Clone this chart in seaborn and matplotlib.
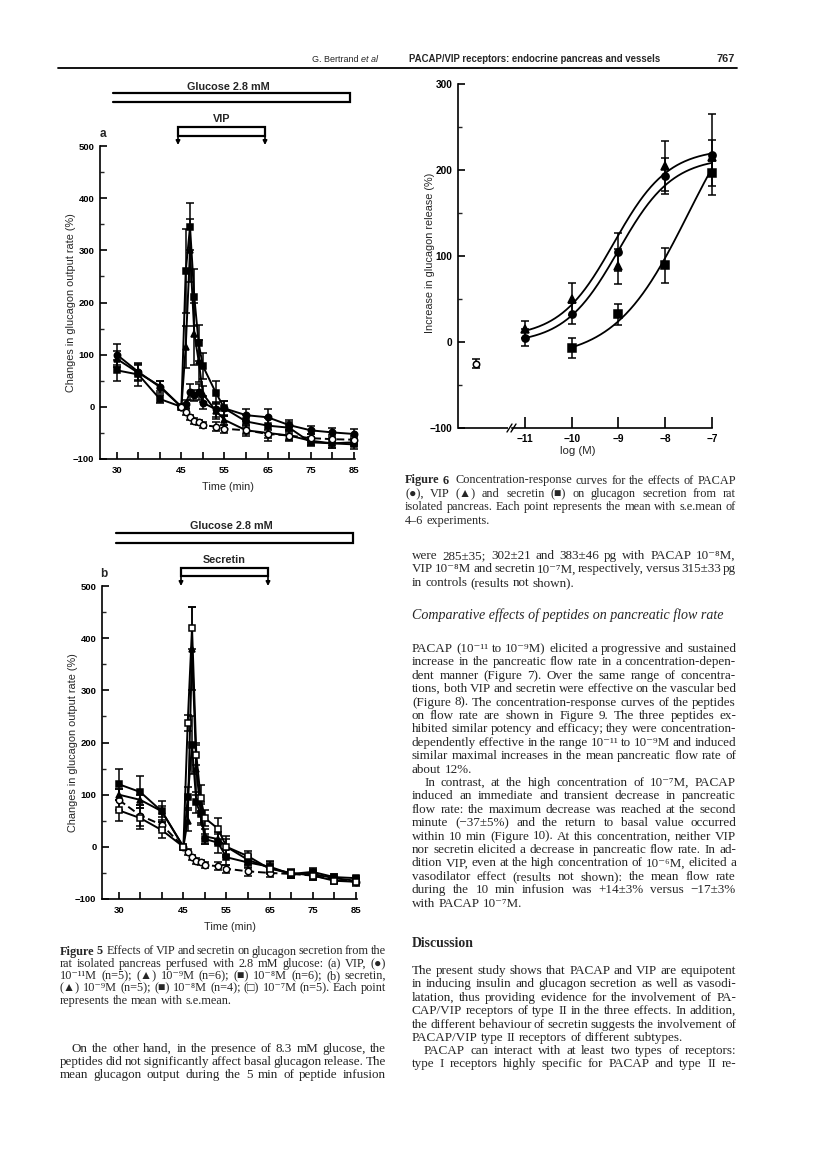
import numpy as np
import pandas as pd
import matplotlib
matplotlib.use("Agg")
import matplotlib.pyplot as plt
import seaborn as sns
from matplotlib import font_manager
from matplotlib.patches import Rectangle
from matplotlib.ticker import FixedLocator, FixedFormatter, MultipleLocator

# ---------------- data ----------------
time_min = [30, 35, 40, 45, 46, 47, 48, 49, 50, 53, 55, 60, 65, 70, 75, 80, 85]
time_tick_labels = ['30', '', '', '45', '', '55', '', '65', '', '75', '', '85']

# Figure 5a : VIP
a_vip_m11 = [100, 67, 38, 0, 5, 29, 22, 29, 8, -5, -3, -16, -20, -35, -45, -49, -52]
a_vip_m11_err = [20, 15, 12, 0, 8, 15, 10, 15, 12, 15, 15, 12, 15, 10, 8, 8, 10]
a_vip_m9 = [92, 65, 40, 0, 115, 300, 140, 88, 25, -8, -25, -45, -50, -55, -65, -70, -68]
a_vip_m9_err = [15, 15, 10, 0, 40, 60, 60, 40, 15, 15, 10, 10, 15, 10, 8, 8, 8]
a_vip_m8 = [70, 62, 15, 0, 260, 345, 210, 122, 78, 27, -3, -28, -36, -40, -68, -70, -72]
a_vip_m8_err = [20, 22, 8, 0, 80, 45, 55, 35, 25, 22, 15, 12, 15, 10, 8, 8, 8]
time_ctrl_a = [45, 46, 47, 48, 49, 50, 53, 55, 60, 65, 70, 75, 80, 85]
a_control = [0, -10, -20, -27, -30, -35, -38, -42, -45, -52, -55, -60, -62, -63]
a_control_err = [0, 5, 5, 5, 5, 5, 8, 8, 8, 8, 8, 8, 8, 8]

# Figure 5b : secretin
b_sec_m9 = [100, 90, 68, 0, 50, 380, 150, 65, 20, 15, 0, -25, -40, -52, -52, -60, -65]
b_sec_m9_err = [10, 10, 10, 0, 20, 80, 50, 20, 15, 10, 15, 10, 10, 8, 8, 5, 5]
b_sec_m8 = [120, 105, 68, 0, 95, 195, 85, 62, 15, 8, -20, -30, -38, -52, -48, -58, -60]
b_sec_m8_err = [30, 30, 20, 0, 20, 55, 20, 20, 10, 20, 15, 10, 10, 8, 8, 5, 5]
b_sec_m7 = [70, 55, 32, 0, 238, 420, 176, 93, 55, 35, 0, -18, -42, -50, -55, -65, -67]
b_sec_m7_err = [20, 20, 15, 0, 15, 40, 20, 25, 15, 20, 20, 10, 10, 8, 8, 5, 5]
b_control = [90, 60, 42, 0, -10, -20, -27, -30, -35, -37, -42, -47, -50, -52, -55, -63, -67]
b_control_err = [20, 20, 10, 0, 5, 5, 5, 5, 5, 8, 8, 8, 8, 8, 8, 8, 8]

# Figure 6 : concentration-response
log_conc_pacap = [-11, -10, -9, -8, -7]
pacap_resp = [5, 33, 105, 193, 218]
pacap_err = [10, 12, 22, 21, 47]
log_conc_vip = [-11, -10, -9, -8, -7]
vip_resp = [15, 50, 88, 205, 215]
vip_err = [10, 19, 20, 29, 20]
log_conc_sec = [-10, -9, -8, -7]
sec_resp = [-7, 32, 89, 196]
sec_err = [12, 12, 20, 15]
log_conc_ctrl = [-12.05]
ctrl_resp = [-25]
ctrl_err = [5]
# fitted curve parameters (bottom, top, logEC50, Hill slope, start, end)
fit_vip = [5, 225, -9.1, 0.75, -11, -7]
fit_pacap = [-2, 215, -9.0, 0.75, -11, -7]
fit_sec = [-20, 320, -7.5, 0.55, -10, -7]
log_tick_labels = ['\u221211', '\u221210', '\u22129', '\u22128', '\u22127']

# ---------------- style ----------------
sns.set_theme(style="ticks")
avail = {f.name for f in font_manager.fontManager.ttflist}
SANS = 'Liberation Sans' if 'Liberation Sans' in avail else 'DejaVu Sans'
NARROW = 'Liberation Sans Narrow' if 'Liberation Sans Narrow' in avail else SANS
SERIF = ['Liberation Serif', 'DejaVu Serif', 'DejaVu Sans']
plt.rcParams['font.family'] = [SANS, 'DejaVu Sans']
plt.rcParams['axes.linewidth'] = 1.2
plt.rcParams['axes.edgecolor'] = 'black'

W, H = 816, 1171
fig = plt.figure(figsize=(W / 100, H / 100), dpi=100)
fig.patch.set_facecolor('white')
ov = fig.add_axes([0, 0, 1, 1])
ov.set_xlim(0, W)
ov.set_ylim(H, 0)
ov.axis('off')
renderer = fig.canvas.get_renderer()


def ax_at(l, t, r, b):
    a = fig.add_axes([l / W, 1 - b / H, (r - l) / W, (b - t) / H])
    a.set_facecolor('none')
    return a


def style_axes(ax, tick_fs):
    sns.despine(ax=ax)
    ax.tick_params(axis='both', which='major', direction='in', length=5, width=1.2,
                   labelsize=tick_fs, colors='black')
    ax.tick_params(axis='both', which='minor', direction='in', length=3, width=1.0)
    for lab in ax.get_xticklabels() + ax.get_yticklabels():
        lab.set_fontweight('bold')
    ax.grid(False)


def series(ax, x, y, err, marker, filled, ls, ms=4.6, lw=1.4):
    eb = ax.errorbar(x, y, yerr=err, fmt='none', ecolor='black', elinewidth=1.1,
                     capsize=2.8, capthick=1.1, zorder=2)
    for ch in eb.get_children():
        ch.set_clip_on(False)
    sns.lineplot(x=x, y=y, ax=ax, color='black', marker=marker, markersize=ms,
                 markerfacecolor='black' if filled else 'white', markeredgecolor='black',
                 markeredgewidth=1.1, linestyle=ls, linewidth=lw, estimator=None,
                 sort=False, zorder=3, clip_on=False)


def time_panel(ax, ylab_x):
    ax.set_xlim(26.1, 85.3)
    ax.set_ylim(-100, 500)
    ax.xaxis.set_major_locator(FixedLocator(list(range(30, 86, 5))))
    ax.xaxis.set_major_formatter(FixedFormatter(time_tick_labels))
    ax.yaxis.set_major_locator(MultipleLocator(100))
    ax.yaxis.set_minor_locator(MultipleLocator(50))
    ax.set_xlabel('Time (min)', fontsize=7.8)
    ax.set_ylabel('Changes in glucagon output rate (%)', fontsize=7.8)
    ax.xaxis.set_label_coords(0.5, -0.072)
    ax.yaxis.set_label_coords(ylab_x, 0.5)
    ax.tick_params(axis='x', pad=5)
    ax.tick_params(axis='y', pad=4)
    style_axes(ax, 6.8)


# ---------------- Figure 5a ----------------
axa = ax_at(100, 146, 355, 459)
series(axa, time_min, a_vip_m8, a_vip_m8_err, 's', True, '-')
series(axa, time_min, a_vip_m9, a_vip_m9_err, '^', True, '-')
series(axa, time_min, a_vip_m11, a_vip_m11_err, 'o', True, '-')
series(axa, time_ctrl_a, a_control, a_control_err, 'o', False, (0, (4, 2)))
time_panel(axa, -0.095)

# ---------------- Figure 5b ----------------
axb = ax_at(102, 586, 357, 899)
series(axb, time_min, b_control, b_control_err, 'o', False, (0, (4, 2)))
series(axb, time_min, b_sec_m8, b_sec_m8_err, 's', True, '-')
series(axb, time_min, b_sec_m9, b_sec_m9_err, '^', True, '-')
series(axb, time_min, b_sec_m7, b_sec_m7_err, 's', False, '-')
time_panel(axb, -0.095)

# ---------------- Figure 6 ----------------
ax6 = ax_at(458, 84, 712, 428)
for p in (fit_vip, fit_pacap, fit_sec):
    xs = np.linspace(p[4], p[5], 200)
    ys = p[0] + (p[1] - p[0]) / (1 + 10 ** ((p[2] - xs) * p[3]))
    sns.lineplot(x=xs, y=ys, ax=ax6, color='black', linewidth=1.3, estimator=None,
                 sort=False, clip_on=False)
series(ax6, log_conc_sec, sec_resp, sec_err, 's', True, 'none', ms=5.2)
series(ax6, log_conc_vip, vip_resp, vip_err, '^', True, 'none', ms=5.4)
series(ax6, log_conc_pacap, pacap_resp, pacap_err, 'o', True, 'none', ms=5.2)
series(ax6, log_conc_ctrl, ctrl_resp, ctrl_err, 'o', False, 'none', ms=4.6)
ax6.set_xlim(-12.43, -7.0)
ax6.set_ylim(-100, 300)
ax6.xaxis.set_major_locator(FixedLocator([-11, -10, -9, -8, -7]))
ax6.xaxis.set_major_formatter(FixedFormatter(log_tick_labels))
ax6.yaxis.set_major_locator(MultipleLocator(100))
ax6.yaxis.set_minor_locator(MultipleLocator(50))
ax6.set_xlabel('log (M)', fontsize=8.2)
ax6.set_ylabel('Increase in glucagon release (%)', fontsize=7.8)
ax6.xaxis.set_label_coords(0.472, -0.052)
ax6.yaxis.set_label_coords(-0.09, 0.51)
style_axes(ax6, 7.3)
ax6.tick_params(axis='x', which='major', length=8, pad=4)
ax6.tick_params(axis='y', pad=4)
ax6.spines['bottom'].set_bounds(-11.27, -7.0)
# axis break
ov.plot([458, 508], [428, 428], color='black', lw=1.2, solid_capstyle='butt')
ov.plot([507, 512], [432, 424], color='black', lw=1.0)
ov.plot([511, 516], [432, 424], color='black', lw=1.0)


# ---------------- annotations Figure 5 ----------------
def glucose_bar(x0, x1, ytop, ybot, label_y):
    ov.plot([x0, x1, x1, x0], [ytop, ytop, ybot, ybot], color='black', lw=1.6,
            solid_joinstyle='miter')
    ov.text((x0 + x1) / 2 - 3, label_y, 'Glucose 2.8 mM', ha='center', va='center',
            fontsize=7.8, fontweight='bold', family=[SANS, 'DejaVu Sans'])


def infusion(x0, x1, ytop, ybot, yarrow, label, label_y):
    ov.add_patch(Rectangle((x0, ytop), x1 - x0, ybot - ytop, fill=False, lw=1.6,
                           edgecolor='black'))
    for xx in (x0, x1):
        ov.annotate('', xy=(xx, yarrow), xytext=(xx, ybot - 0.5),
                    arrowprops=dict(arrowstyle='-|>', color='black', lw=1.2,
                                    mutation_scale=6, shrinkA=0, shrinkB=0))
    ov.text((x0 + x1) / 2, label_y, label, ha='center', va='center', fontsize=7.8,
            fontweight='bold', family=[SANS, 'DejaVu Sans'])


glucose_bar(113, 350, 93, 102, 87)
infusion(178, 265, 127, 136, 145, 'VIP', 119)
ov.text(103, 134, 'a', ha='center', va='center', fontsize=8.5, fontweight='bold')

glucose_bar(116, 353, 533, 543, 526)
infusion(181, 268, 568, 576, 586, 'Secretin', 560)
ov.text(104, 574, 'b', ha='center', va='center', fontsize=8.5, fontweight='bold')

# ---------------- header ----------------
ov.plot([58, 737], [68, 68], color='black', lw=1.3)


def fit_text(t, target):
    w = t.get_window_extent(renderer).width
    t.set_fontsize(t.get_fontsize() * target / w)


t1 = ov.text(312, 62, 'G. Bertrand ', fontsize=9, family=[NARROW, 'DejaVu Sans'],
             ha='left', va='baseline')
fit_text(t1, 49)
t1b = ov.text(361, 62, 'et al', fontsize=9, family=[NARROW, 'DejaVu Sans'], style='italic',
              ha='left', va='baseline')
fit_text(t1b, 17)
t2 = ov.text(409, 62, 'PACAP/VIP receptors: endocrine pancreas and vessels', fontsize=9,
             family=[NARROW, 'DejaVu Sans'], fontweight='bold', ha='left', va='baseline')
fit_text(t2, 251)
t3 = ov.text(735, 62, '767', fontsize=9, family=[NARROW, 'DejaVu Sans'], fontweight='bold',
             ha='right', va='baseline')
fit_text(t3, 18)


# ---------------- body text ----------------
def natural_width(text, fs, style='normal'):
    t = ov.text(0, 0, text.replace('\u00a7', ''), fontsize=fs, family=SERIF, style=style)
    w = t.get_window_extent(renderer).width
    t.remove()
    return w


def put_line(text, x0, x1, base, fs, justify=True, style='normal', weight='normal'):
    toks = text.split(' ')
    objs = []
    for tok in toks:
        wt = weight
        if tok.startswith('\u00a7'):
            tok = tok[1:]
            wt = 'bold'
        objs.append(ov.text(x0, base, tok, fontsize=fs, family=SERIF, fontweight=wt,
                            style=style, ha='left', va='baseline'))
    ws = [o.get_window_extent(renderer).width for o in objs]
    sp = fs * 100 / 72 * 0.25
    n = len(objs)
    if justify and n > 1:
        gap = (x1 - x0 - sum(ws)) / (n - 1)
        min_gap = sp * 0.6
        if gap < min_gap:
            scale = (x1 - x0 - min_gap * (n - 1)) / sum(ws)
            for o in objs:
                o.set_fontsize(fs * scale)
            ws = [w * scale for w in ws]
            gap = min_gap
    else:
        gap = sp
    x = x0
    for o, w in zip(objs, ws):
        o.set_x(x)
        x += w + gap


def fit_size(blocks, fs0=10.0):
    ratios = []
    for lines, width, indent in blocks:
        for i, ln in enumerate(lines[:-1]):
            avail_w = width - (indent if i == 0 else 0)
            ratios.append(avail_w / natural_width(ln, fs0))
    return fs0 * float(np.median(ratios)) * 0.985


def paragraph(lines, x0, x1, base0, dy, fs, last_justified=False, indent=0, style='normal',
              weight='normal'):
    for i, ln in enumerate(lines):
        just = (i < len(lines) - 1) or last_justified
        put_line(ln, x0 + (indent if i == 0 else 0), x1, base0 + i * dy, fs, just, style, weight)


cap5 = ['\u00a7Figure \u00a75  Effects of VIP and secretin on glucagon secretion from the',
        'rat isolated pancreas perfused with 2.8 mM glucose: (a) VIP, (\u25cf)',
        '10\u207b\u00b9\u00b9M (n=5); (\u25b2) 10\u207b\u2079M (n=6); (\u25a0) 10\u207b\u2078M (n=6); (b) secretin,',
        '(\u25b2) 10\u207b\u2079M (n=5); (\u25a0) 10\u207b\u2078M (n=4); (\u25a1) 10\u207b\u2077M (n=5). Each point',
        'represents the mean with s.e.mean.']
cap6 = ['\u00a7Figure \u00a76  Concentration-response curves for the effects of PACAP',
        '(\u25cf), VIP (\u25b2) and secretin (\u25a0) on glucagon secretion from rat',
        'isolated pancreas. Each point represents the mean with s.e.mean of',
        '4\u20136 experiments.']

left_body = ['On the other hand, in the presence of 8.3 mM glucose, the',
             'peptides did not significantly affect basal glucagon release. The',
             'mean glucagon output during the 5 min of peptide infusion']
para1 = ['were 285\u00b135; 302\u00b121 and 383\u00b146 pg with PACAP 10\u207b\u2078M,',
         'VIP 10\u207b\u2078M and secretin 10\u207b\u2077M, respectively, versus 315\u00b133 pg',
         'in controls (results not shown).']
para2 = ['PACAP (10\u207b\u00b9\u00b9 to 10\u207b\u2079M) elicited a progressive and sustained',
         'increase in the pancreatic flow rate in a concentration-depen-',
         'dent manner (Figure 7). Over the same range of concentra-',
         'tions, both VIP and secretin were effective on the vascular bed',
         '(Figure 8). The concentration-response curves of the peptides',
         'on flow rate are shown in Figure 9. The three peptides ex-',
         'hibited similar potency and efficacy; they were concentration-',
         'dependently effective in the range 10\u207b\u00b9\u00b9 to 10\u207b\u2079M and induced',
         'similar maximal increases in the mean pancreatic flow rate of',
         'about 12%.']
para3 = ['In contrast, at the high concentration of 10\u207b\u2077M, PACAP',
         'induced an immediate and transient decrease in pancreatic',
         'flow rate: the maximum decrease was reached at the second',
         'minute (\u221237\u00b15%) and the return to basal value occurred',
         'within 10 min (Figure 10). At this concentration, neither VIP',
         'nor secretin elicited a decrease in pancreatic flow rate. In ad-',
         'dition VIP, even at the high concentration of 10\u207b\u2076M, elicited a',
         'vasodilator effect (results not shown): the mean flow rate',
         'during the 10 min infusion was +14\u00b13% versus \u221217\u00b13%',
         'with PACAP 10\u207b\u2077M.']
para4 = ['The present study shows that PACAP and VIP are equipotent',
         'in inducing insulin and glucagon secretion as well as vasodi-',
         'latation, thus providing evidence for the involvement of PA-',
         'CAP/VIP receptors of type II in the three effects. In addition,',
         'the different behaviour of secretin suggests the involvement of',
         'PACAP/VIP type II receptors of different subtypes.']
para5 = ['PACAP can interact with at least two types of receptors:',
         'type I receptors highly specific for PACAP and type II re-',
         '']

R0, R1 = 412, 736
fs_cap = fit_size([(cap5, 326, 0), (cap6, 331, 0)], 9.0)
fs_body = fit_size([(left_body + [''], 326, 12), (para1, 324, 0), (para2, 324, 0),
                    (para3, 324, 12), (para4, 324, 0), (para5, 324, 12)], 10.0)

paragraph(cap5, 60, 386, 954.5, 12.3, fs_cap)
paragraph(cap6, 405, 736, 483.5, 13.4, fs_cap)
paragraph(left_body, 60, 386, 1052, 13.2, fs_body, last_justified=True, indent=12)

paragraph(para1, R0, R1, 559, 13.4, fs_body)
head = ov.text(R0, 619, 'Comparative effects of peptides on pancreatic flow rate', fontsize=10,
               family=SERIF, style='italic', ha='left', va='baseline')
fit_text(head, 311)
paragraph(para2, R0, R1, 652, 13.4, fs_body)
paragraph(para3, R0, R1, 786, 13.4, fs_body, indent=12)
ov.text(R0, 947, 'Discussion', fontsize=fs_body * 1.05, family=SERIF, fontweight='bold',
        ha='left', va='baseline')
paragraph(para4, R0, R1, 974, 13.4, fs_body)
paragraph(para5[:2], R0, R1, 1054, 13.4, fs_body, last_justified=True, indent=12)

fig.savefig('out.png', dpi=100, facecolor='white')
